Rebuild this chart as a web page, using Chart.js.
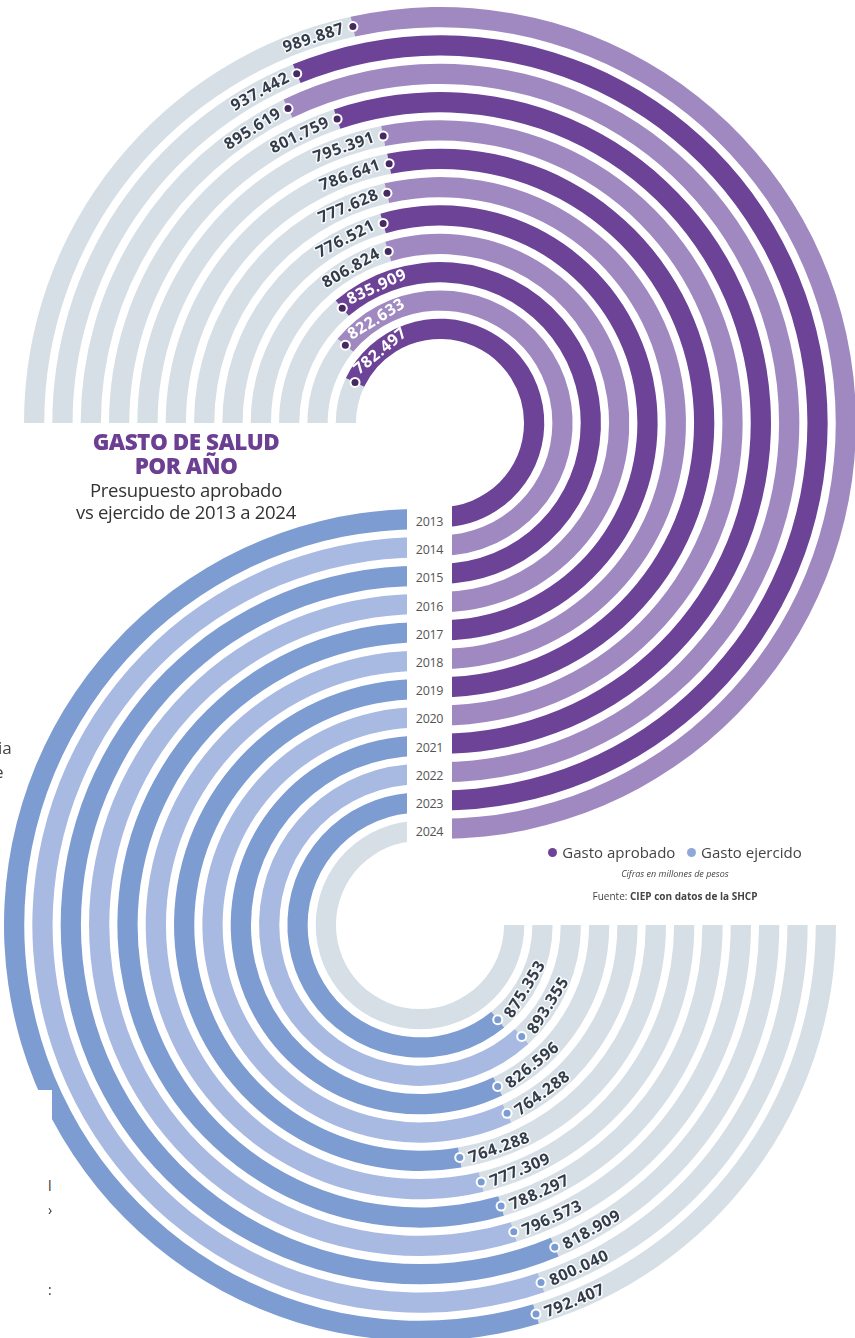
<!DOCTYPE html>
<html lang="es">
<head>
<meta charset="utf-8">
<script src="https://cdn.jsdelivr.net/npm/chart.js@4.4.1/dist/chart.umd.min.js"></script>
<style>
  html, body { margin:0; padding:0; background:#fff; }
  body { width:855px; height:1338px; position:relative; overflow:hidden; font-family:'Open Sans', sans-serif; color:#3a3a3a; }
  .ring { position:absolute; width:832px; height:832px; }
  #top-wrap { left:24px; top:7px; }
  #bottom-wrap { left:4px; top:509px; }
  .title { position:absolute; left:56px; width:260px; text-align:center; }
  .t1 { font-weight:800; font-size:22.5px; color:#6c3f93; letter-spacing:-0.5px; line-height:24px; }
  .t2 { font-size:18.5px; line-height:22px; color:#333; letter-spacing:-0.3px; }
  #years { position:absolute; left:407px; top:505px; width:45px; height:340px; background:#fff; z-index:5; }
  #years div { position:absolute; left:0; width:45px; text-align:center; font-size:12.5px; color:#555; letter-spacing:-0.3px; }
  .legend { position:absolute; left:540px; top:842px; width:270px; font-size:15px; color:#444; white-space:nowrap; text-align:center; }
  .dot { display:inline-block; width:9px; height:9px; border-radius:50%; margin-right:5px; vertical-align:1px; }
  .note { position:absolute; left:540px; width:270px; text-align:center; color:#444; white-space:nowrap; }
  .stray { position:absolute; color:#444; font-size:17px; }
  .mask { position:absolute; background:#fff; z-index:4; }
</style>
</head>
<body>
<div id="top-wrap" class="ring"><canvas id="top-chart"></canvas></div>
<div id="bottom-wrap" class="ring"><canvas id="bottom-chart"></canvas></div>

<div class="title t1" style="top:430px">GASTO DE SALUD</div>
<div class="title t1" style="top:454px">POR AÑO</div>
<div class="title t2" style="top:479px">Presupuesto aprobado</div>
<div class="title t2" style="top:501px">vs ejercido de 2013 a 2024</div>

<div id="years"></div>

<div class="legend"><span class="dot" style="background:#6c4396"></span>Gasto aprobado&nbsp;&nbsp;&nbsp;<span class="dot" style="background:#8fa8d8"></span>Gasto ejercido</div>
<div class="note" style="top:867px;font-size:9px;font-style:italic">Cifras en millones de pesos</div>
<div class="note" style="top:889px;font-size:10px">Fuente: <b>CIEP con datos de la SHCP</b></div>

<div class="stray" style="left:-2px;top:736px">ia</div>
<div class="stray" style="left:-6px;top:760px">e</div>
<div class="mask" style="left:0;top:1090px;width:52px;height:248px"></div>
<div class="stray" style="left:48px;top:1176px;font-size:14px;z-index:6;color:#333">l</div>
<div class="stray" style="left:48px;top:1200px;font-size:14px;z-index:6;color:#333">›</div>
<div class="stray" style="left:48px;top:1280px;font-size:14px;z-index:6;color:#333">:</div>

<script>
// ===== Gasto de salud por año =====
const years = ['2013', '2014', '2015', '2016', '2017', '2018', '2019', '2020', '2021', '2022', '2023', '2024']
const aprobado = [782497, 822633, 835909, 806824, 776521, 777628, 786641, 795391, 801759, 895619, 937442, 989887]
const ejercido = [792407, 800040, 818909, 796573, 788297, 777309, 764288, 764288, 826596, 893355, 875353, null]
// parte gris (sin llenar) de cada pista, mismas unidades
const restoAprobado = [81600, 140600, 188100, 300100, 293700, 310200, 324800, 327800, 287700, 279400, 313700, 399300]
const restoEjercido = [295800, 287100, 271900, 295200, 297100, 307900, 323500, 243300, 258400, 191200, 201900, null]

const GRIS = '#d5dfe5'
const MORADO = '#6c4396', MORADO_CLARO = '#a089c1'
const AZUL = '#7d9cd1', AZUL_CLARO = '#a8b9e2'

// años al centro
document.getElementById('years').innerHTML = years.map((y, i) =>
  `<div style="top:${8 + i * 28.2}px">${y}</div>`).join('')

const fmtNum = v => String(v).replace(/\B(?=(\d{3})+(?!\d))/g, '.')

function buildRings(values, rests, dark, light, order) {
  const sets = []
  order.forEach((i, k) => {
    if (k > 0) sets.push({ data: [1], backgroundColor: ['rgba(0,0,0,0)'], weight: 8, spacer: true })
    const v = values[i]
    sets.push({
      label: years[i],
      data: v == null ? [1, 0] : [rests[i], v],
      backgroundColor: [GRIS, i % 2 === 0 ? dark : light],
      weight: 20,
    })
  })
  return sets
}

// etiquetas con punto al final de cada arco
const arcLabels = {
  id: 'arcLabels',
  afterDatasetsDraw(chart, args, opts) {
    const ctx = chart.ctx
    chart.data.datasets.forEach((ds, i) => {
      if (ds.spacer) return
      const v = ds.data[1]
      if (!v) return
      const arc = chart.getDatasetMeta(i).data[1]
      const { x, y, startAngle, innerRadius, outerRadius } = arc
      const r = (innerRadius + outerRadius) / 2
      const a = startAngle
      const label = fmtNum(v)
      ctx.save()
      ctx.font = 'bold 16px "Open Sans"'
      ctx.letterSpacing = '0.6px'
      const w = ctx.measureText(label).width
      const off = (9 + w / 2) / r
      const inside = opts.side === 'top' && r < 160
      const ang = opts.side === 'top' ? (inside ? a + off : a - off) : a - off
      const rot = opts.side === 'top' ? ang + Math.PI / 2 : ang - Math.PI / 2
      ctx.translate(x + r * Math.cos(ang), y + r * Math.sin(ang))
      ctx.rotate(rot)
      ctx.textAlign = 'center'
      ctx.textBaseline = 'middle'
      if (inside) {
        ctx.fillStyle = '#fff'
      } else {
        ctx.strokeStyle = 'rgba(255,255,255,0.8)'
        ctx.lineWidth = 3
        ctx.lineJoin = 'round'
        ctx.strokeText(label, 0, 1)
        ctx.fillStyle = '#343c4a'
      }
      ctx.fillText(label, 0, 1)
      ctx.restore()

      // punto
      const px = x + r * Math.cos(a), py = y + r * Math.sin(a)
      ctx.beginPath(); ctx.arc(px, py, 5.5, 0, Math.PI * 2); ctx.fillStyle = '#fff'; ctx.fill()
      ctx.beginPath(); ctx.arc(px, py, 3.5, 0, Math.PI * 2); ctx.fillStyle = opts.dot; ctx.fill()
    })
  }
}

function ringOptions(rotation, side, dot) {
  return {
    responsive: true,
    maintainAspectRatio: false,
    animation: false,
    events: [],
    rotation: rotation,
    circumference: 270,
    cutout: '20.2%',
    layout: { padding: 0 },
    elements: { arc: { borderWidth: 0, hoverBorderWidth: 0, hoverOffset: 0, offset: 0 } },
    plugins: {
      legend: { display: false },
      tooltip: { enabled: false },
      arcLabels: { side, dot },
    }
  }
}

const topOrder = years.map((_, i) => years.length - 1 - i)   // 2024 afuera
const bottomOrder = years.map((_, i) => i)                  // 2013 afuera

new Chart(document.getElementById('top-chart'), {
  type: 'doughnut',
  data: { labels: ['resto', 'aprobado'], datasets: buildRings(aprobado, restoAprobado, MORADO, MORADO_CLARO, topOrder) },
  options: ringOptions(-90, 'top', '#46295f'),
  plugins: [arcLabels]
})

new Chart(document.getElementById('bottom-chart'), {
  type: 'doughnut',
  data: { labels: ['resto', 'ejercido'], datasets: buildRings(ejercido, restoEjercido, AZUL, AZUL_CLARO, bottomOrder) },
  options: ringOptions(90, 'bottom', '#7b9bd3'),
  plugins: [arcLabels]
})
</script>
</body>
</html>
